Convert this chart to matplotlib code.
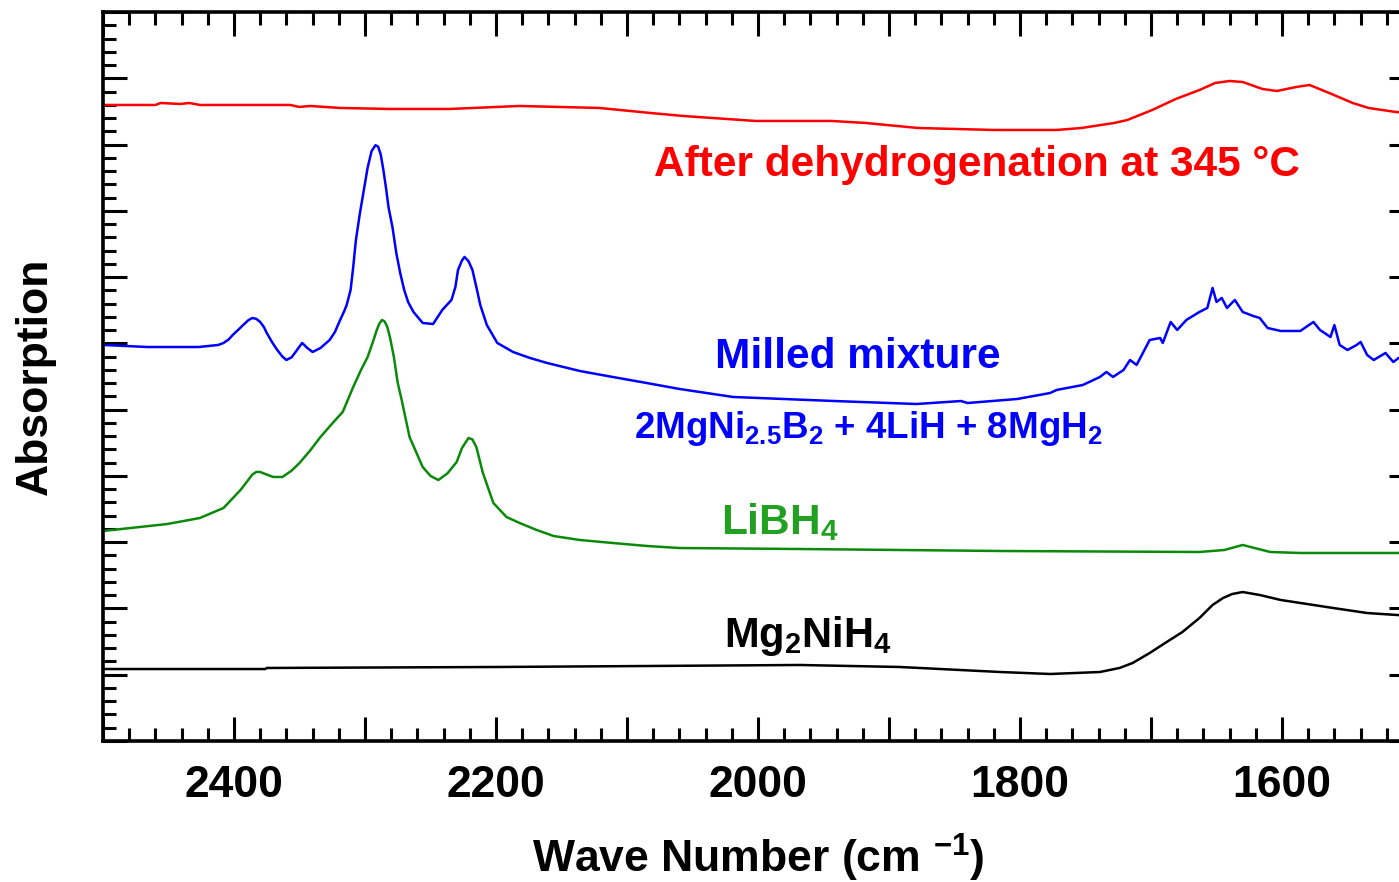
import matplotlib
matplotlib.use("Agg")
import matplotlib.pyplot as plt
from matplotlib.ticker import MultipleLocator, NullFormatter

plt.rcParams['font.family'] = ['Liberation Sans', 'DejaVu Sans']
plt.rcParams['font.weight'] = 'bold'
plt.rcParams['mathtext.fontset'] = 'custom'
plt.rcParams['mathtext.rm'] = 'Liberation Sans:bold'
plt.rcParams['mathtext.it'] = 'Liberation Sans:bold'
plt.rcParams['mathtext.bf'] = 'Liberation Sans:bold'
plt.rcParams['mathtext.default'] = 'bf'

# ---------------- data (wavenumber in cm^-1, absorption in a.u.) ----------------
red_wn = [2500, 2460, 2456, 2441, 2434, 2426, 2357, 2350, 2342, 2319, 2281, 2235, 2182,
          2121, 2082, 2057, 2035, 2002, 1944, 1918, 1878, 1820, 1772, 1753, 1728, 1718,
          1699, 1681, 1663, 1651, 1640, 1630, 1615, 1604, 1589, 1579, 1564, 1546, 1534,
          1513, 1500]
red_ab = [9.597, 9.597, 9.627, 9.612, 9.627, 9.597, 9.597, 9.567, 9.582, 9.552, 9.537,
          9.537, 9.582, 9.552, 9.476, 9.431, 9.401, 9.356, 9.356, 9.326, 9.250, 9.220,
          9.220, 9.250, 9.326, 9.371, 9.522, 9.688, 9.823, 9.929, 9.959, 9.944, 9.839,
          9.808, 9.869, 9.899, 9.778, 9.627, 9.552, 9.491, 9.47]

blue_wn = [2500, 2466, 2427, 2412, 2408, 2404, 2401, 2397, 2393, 2389, 2386, 2383, 2380,
           2377, 2375, 2371, 2367, 2363, 2360, 2356, 2353, 2348, 2344, 2340, 2334, 2327,
           2323, 2319, 2316, 2314, 2311, 2309, 2307, 2304, 2301, 2298, 2295, 2292, 2290,
           2288, 2286, 2284, 2282, 2279, 2276, 2273, 2270, 2267, 2263, 2256, 2248, 2241,
           2234, 2231, 2229, 2226, 2224, 2221, 2218, 2215, 2212, 2207, 2199, 2187, 2174,
           2161, 2136, 2111, 2085, 2060, 2019, 1981, 1943, 1879, 1845, 1840, 1802, 1777,
           1772, 1752, 1739, 1734, 1729, 1721, 1716, 1711, 1701, 1693, 1691, 1685, 1680,
           1673, 1663, 1657, 1653, 1650, 1646, 1642, 1636, 1630, 1622, 1617, 1611, 1601,
           1586, 1576, 1571, 1563, 1560, 1556, 1550, 1543, 1540, 1535, 1530, 1521, 1515,
           1511, 1500]
blue_ab = [5.976, 5.945, 5.945, 5.976, 6.006, 6.06, 6.126, 6.20, 6.277, 6.35, 6.383, 6.37,
           6.323, 6.24, 6.157, 6.02, 5.900, 5.80, 5.749, 5.79, 5.870, 6.006, 5.930, 5.870,
           5.930, 6.051, 6.17, 6.353, 6.48, 6.579, 6.805, 7.15, 7.55, 7.95, 8.30, 8.65,
           8.90, 8.99, 8.97, 8.85, 8.62, 8.35, 8.05, 7.75, 7.35, 7.05, 6.80, 6.62, 6.474,
           6.308, 6.292, 6.504, 6.655, 6.85, 7.108, 7.25, 7.304, 7.24, 7.108, 6.85, 6.579,
           6.277, 6.006, 5.870, 5.779, 5.704, 5.583, 5.493, 5.402, 5.312, 5.191, 5.161,
           5.131, 5.085, 5.13, 5.100, 5.161, 5.251, 5.297, 5.372, 5.493, 5.568, 5.493,
           5.598, 5.749, 5.674, 6.051, 6.081, 6.006, 6.323, 6.202, 6.353, 6.474, 6.534,
           6.836, 6.625, 6.685, 6.534, 6.655, 6.474, 6.413, 6.383, 6.232, 6.187, 6.187,
           6.323, 6.202, 6.096, 6.277, 5.976, 5.900, 5.976, 6.021, 5.825, 5.749, 5.855,
           5.719, 5.779, 5.75]

green_wn = [2500, 2451, 2426, 2408, 2395, 2386, 2383, 2380, 2375, 2370, 2363, 2356, 2350,
            2342, 2334, 2324, 2317, 2309, 2303, 2298, 2294, 2291, 2289, 2287, 2285, 2283,
            2281, 2278, 2275, 2272, 2266, 2256, 2250, 2244, 2237, 2230, 2226, 2221, 2218,
            2215, 2210, 2202, 2192, 2182, 2169, 2156, 2136, 2111, 2085, 2060, 1968, 1815,
            1663, 1644, 1630, 1621, 1609, 1586, 1511, 1500]
green_ab = [3.169, 3.274, 3.365, 3.516, 3.788, 4.02, 4.06, 4.059, 4.02, 3.984, 3.984,
            4.08, 4.195, 4.38, 4.587, 4.814, 4.965, 5.342, 5.60, 5.794, 6.02, 6.202, 6.30,
            6.353, 6.33, 6.25, 6.096, 5.80, 5.402, 5.146, 4.587, 4.135, 4.00, 3.938, 4.04,
            4.210, 4.42, 4.572, 4.55, 4.436, 4.044, 3.591, 3.380, 3.290, 3.184, 3.093,
            3.033, 2.988, 2.943, 2.912, 2.897, 2.867, 2.852, 2.882, 2.958, 2.912, 2.852,
            2.837, 2.837, 2.837]

black_wn = [2500, 2376, 2375, 2197, 2082, 1968, 1892, 1815, 1777, 1739, 1724, 1714, 1701,
            1688, 1676, 1663, 1653, 1645, 1638, 1630, 1617, 1601, 1561, 1535, 1512, 1500]
black_ab = [1.086, 1.086, 1.102, 1.117, 1.132, 1.147, 1.117, 1.041, 1.011, 1.041, 1.102,
            1.177, 1.328, 1.494, 1.645, 1.856, 2.052, 2.158, 2.218, 2.248, 2.203, 2.128,
            2.007, 1.931, 1.901, 1.89]

x_major = [2500, 2400, 2300, 2200, 2100, 2000, 1900, 1800, 1700, 1600, 1500]
x_major_labels = ['', '2400', '', '2200', '', '2000', '', '1800', '', '1600', '']

# ---------------- figure ----------------
fig = plt.figure(figsize=(13.99, 8.82), dpi=100)
ax = fig.add_axes([103/1399, 141/882, 1310/1399, 729/882])

ax.plot(red_wn, red_ab, color='#ff0000', lw=1.8)
ax.plot(blue_wn, blue_ab, color='#0000ff', lw=1.8)
ax.plot(green_wn, green_ab, color='#0a8a0a', lw=1.8)
ax.plot(black_wn, black_ab, color='#000000', lw=1.8)

ax.set_xlim(2500, 1500)
ax.set_ylim(0, 11)

ax.set_xticks(x_major)
ax.set_xticklabels(x_major_labels)
ax.xaxis.set_minor_locator(MultipleLocator(20))
ax.yaxis.set_major_locator(MultipleLocator(1))
ax.yaxis.set_minor_locator(MultipleLocator(0.2))
ax.yaxis.set_major_formatter(NullFormatter())

ax.tick_params(which='both', direction='in', top=True, right=True, width=2.2,
               labelsize=32, pad=17)
ax.tick_params(which='major', length=17)
ax.tick_params(which='minor', length=9.5)
for lab in ax.get_xticklabels():
    lab.set_fontweight('bold')
for s in ax.spines.values():
    s.set_linewidth(2.6)

ax.set_xlabel('Wave Number (cm $^{-1}$)', fontsize=32, fontweight='bold', labelpad=19)
ax.set_ylabel('Absorption', fontsize=32, fontweight='bold', labelpad=17)

ax.text(1833, 8.69, 'After dehydrogenation at 345 °C', color='#ff0000', fontsize=30.5,
        fontweight='bold', ha='center', va='center')
ax.text(1924, 5.79, 'Milled mixture', color='#0000ff', fontsize=30.5,
        fontweight='bold', ha='center', va='center')
ax.text(1916, 4.72, '2MgNi$_{2.5}$B$_2$ + 4LiH + 8MgH$_2$', color='#0000ff', fontsize=26.5,
        fontweight='bold', ha='center', va='center')
ax.text(1983, 3.30, 'LiBH$_4$', color='#22a022', fontsize=30.5,
        fontweight='bold', ha='center', va='center')
ax.text(1962, 1.58, 'Mg$_2$NiH$_4$', color='#000000', fontsize=30,
        fontweight='bold', ha='center', va='center')

fig.savefig('out.png', dpi=100)
